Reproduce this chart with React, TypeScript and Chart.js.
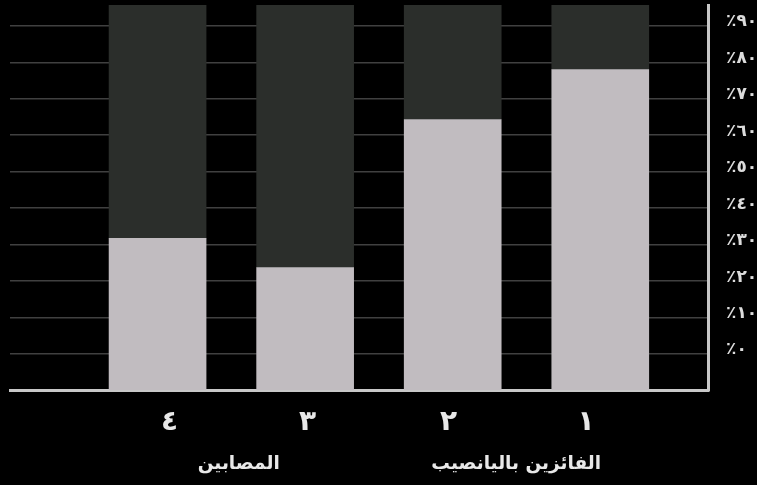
import React, { useEffect, useRef } from 'react';
import { Chart, registerables } from 'chart.js';

Chart.register(...registerables);

// Data
const barPositions = [1, 2, 3, 4];
const categoryLabelPositions = [1.097, 2.028, 2.984, 3.919];
const categoryLabels = ['١', '٢', '٣', '٤'];
const groupPositions = [1.57, 3.45];
const groupLabels = ['الفائزين باليانصيب', 'المصابين'];
const lowerValues = [88, 74.3, 33.7, 41.7];
const upperValues = [17.7, 31.4, 72, 64];
const yTickValues = [0, 10, 20, 30, 40, 50, 60, 70, 80, 90, 100];
const yTickLabels = ['', '٪٠', '٪١٠', '٪٢٠', '٪٣٠', '٪٤٠', '٪٥٠', '٪٦٠', '٪٧٠', '٪٨٠', '٪٩٠'];
const Y_MAX = 105.7;
const X_MIN = 0.27;
const X_MAX = 5;

const FONT = "'DejaVu Sans', sans-serif";

export default function App() {
  const ref = useRef<HTMLCanvasElement | null>(null);

  useEffect(() => {
    if (!ref.current) return;
    const chart = new Chart(ref.current, {
      type: 'bar',
      data: {
        datasets: [
          {
            label: 'lower',
            data: barPositions.map((x, i) => ({ x, y: lowerValues[i] })),
            backgroundColor: '#c1bcc0',
            borderWidth: 0,
            barThickness: 97,
          },
          {
            label: 'upper',
            data: barPositions.map((x, i) => ({ x, y: upperValues[i] })),
            backgroundColor: '#2b2e2b',
            borderWidth: 0,
            barThickness: 97,
          },
        ],
      },
      options: {
        animation: false,
        responsive: true,
        maintainAspectRatio: false,
        layout: { padding: { top: 5, left: 10, right: 0, bottom: 0 } },
        plugins: {
          legend: { display: false },
          tooltip: { enabled: false },
        },
        scales: {
          x: {
            type: 'linear',
            reverse: true,
            stacked: true,
            offset: false,
            min: X_MIN,
            max: X_MAX,
            z: 1,
            grid: { display: false, drawTicks: false, offset: false },
            border: { display: true, color: '#c8c8c8', width: 3 },
            afterBuildTicks: (scale: any) => {
              const vals = [...categoryLabelPositions, ...groupPositions].sort((a, b) => a - b);
              scale.ticks = vals.map((v) => ({ value: v }));
            },
            afterFit: (scale: any) => {
              scale.height = 94.5;
              scale.paddingLeft = 0;
              scale.paddingRight = 0;
            },
            ticks: {
              autoSkip: false,
              maxRotation: 0,
              minRotation: 0,
              padding: 12,
              color: '#e8e8e8',
              font: (ctx: any) => {
                const v = ctx.tick ? Number(ctx.tick.value) : 0;
                const isCat = categoryLabelPositions.indexOf(v) >= 0;
                return {
                  family: FONT,
                  size: isCat ? 28 : 18.5,
                  weight: 'bold',
                  lineHeight: '41px',
                };
              },
              callback: (value: any) => {
                const ci = categoryLabelPositions.indexOf(Number(value));
                if (ci >= 0) return categoryLabels[ci];
                const gi = groupPositions.indexOf(Number(value));
                if (gi >= 0) return ['', groupLabels[gi]];
                return '';
              },
            },
          },
          y: {
            type: 'linear',
            position: 'right',
            stacked: true,
            min: 0,
            max: Y_MAX,
            grid: { color: '#404040', lineWidth: 1.5, drawTicks: false },
            border: { display: true, color: '#c8c8c8', width: 3 },
            afterBuildTicks: (scale: any) => {
              scale.ticks = yTickValues.map((v) => ({ value: v }));
            },
            afterFit: (scale: any) => {
              scale.width = 49;
              scale.paddingTop = 0;
              scale.paddingBottom = 0;
            },
            ticks: {
              padding: 18,
              labelOffset: -4,
              color: '#dcdcdc',
              font: { family: FONT, size: 17, weight: 'bold' },
              callback: (_value: any, index: number) => yTickLabels[index] ?? '',
            },
          },
        },
      },
    } as any);
    return () => chart.destroy();
  }, []);

  return (
    <div
      style={{
        position: 'fixed',
        left: 0,
        top: 0,
        width: 757,
        height: 485,
        background: '#000',
      }}
    >
      <canvas ref={ref} style={{ display: 'block' }} />
    </div>
  );
}
